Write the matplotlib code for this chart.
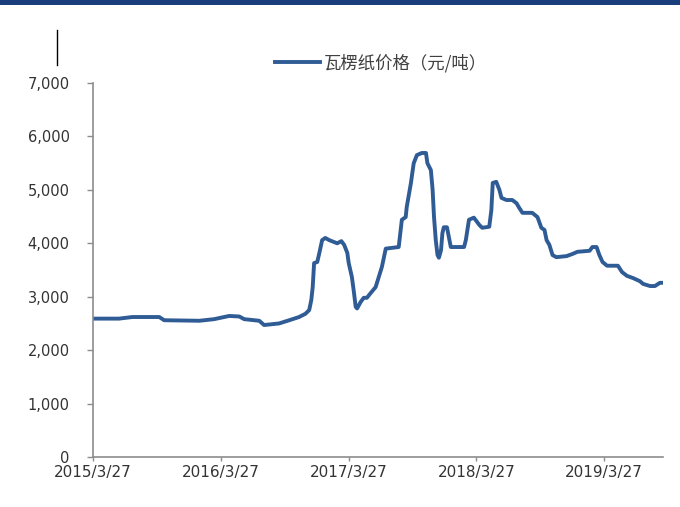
import matplotlib

matplotlib.use("Agg")
import matplotlib.pyplot as plt
from matplotlib.lines import Line2D
from matplotlib.patches import Rectangle
from matplotlib.ticker import FuncFormatter, MultipleLocator
import pandas as pd

plt.rcParams["font.family"] = ["DejaVu Sans", "Noto Sans CJK SC"]

dates = [
    "2015-03-27", "2015-06-09", "2015-07-17", "2015-10-02", "2015-10-16",
    "2016-01-25", "2016-03-07", "2016-04-19", "2016-05-18", "2016-06-01",
    "2016-07-14", "2016-07-28", "2016-09-09", "2016-10-08", "2016-11-05",
    "2016-11-23", "2016-12-04", "2016-12-10", "2016-12-14", "2016-12-18",
    "2016-12-27", "2017-01-02", "2017-01-10", "2017-01-19", "2017-01-30",
    "2017-02-22", "2017-03-06", "2017-03-14", "2017-03-23", "2017-03-27",
    "2017-04-05", "2017-04-10", "2017-04-16", "2017-04-20", "2017-04-30",
    "2017-05-09", "2017-05-18", "2017-05-29", "2017-06-12", "2017-06-21",
    "2017-06-30", "2017-07-11", "2017-08-17", "2017-08-26", "2017-09-06",
    "2017-09-09", "2017-09-21", "2017-09-25", "2017-09-29", "2017-10-08",
    "2017-10-22", "2017-11-03", "2017-11-07", "2017-11-17", "2017-11-22",
    "2017-11-26", "2017-12-01", "2017-12-06", "2017-12-10", "2017-12-16",
    "2017-12-20", "2017-12-24", "2018-01-02", "2018-01-13", "2018-02-20",
    "2018-02-25", "2018-03-06", "2018-03-20", "2018-04-05", "2018-04-13",
    "2018-05-03", "2018-05-09", "2018-05-13", "2018-05-23", "2018-06-01",
    "2018-06-07", "2018-06-21", "2018-07-08", "2018-07-20", "2018-07-28",
    "2018-08-06", "2018-09-03", "2018-09-18", "2018-09-29", "2018-10-08",
    "2018-10-14", "2018-10-22", "2018-10-31", "2018-11-11", "2018-12-10",
    "2018-12-27", "2019-01-10", "2019-02-14", "2019-02-22", "2019-03-06",
    "2019-03-14", "2019-03-23", "2019-04-05", "2019-05-06", "2019-05-18",
    "2019-06-01", "2019-06-18", "2019-07-08", "2019-07-17", "2019-08-06",
    "2019-08-20", "2019-09-03", "2019-09-12",
]
prices = [
    2590, 2590, 2620, 2620, 2560,
    2550, 2580, 2640, 2630, 2580,
    2550, 2470, 2500, 2560, 2620,
    2680, 2750, 2940, 3180, 3630,
    3650, 3820, 4060, 4100, 4060,
    4000, 4040, 3970, 3820, 3630,
    3370, 3130, 2810, 2780, 2900,
    2980, 2980, 3070, 3180, 3370,
    3560, 3900, 3930, 4440, 4490,
    4680, 5130, 5320, 5500, 5650,
    5690, 5690, 5500, 5370, 5000,
    4490, 4060, 3780, 3730, 3870,
    4190, 4300, 4300, 3930, 3930,
    4060, 4440, 4480, 4340, 4290,
    4310, 4620, 5130, 5150, 5000,
    4850, 4810, 4810, 4750, 4660,
    4570, 4570, 4490, 4290, 4250,
    4060, 3970, 3780, 3740, 3760,
    3800, 3840, 3860, 3930, 3930,
    3780, 3650, 3580, 3580, 3460,
    3390, 3350, 3290, 3240, 3200,
    3200, 3260, 3260,
]
tick_dates = ["2015-03-27", "2016-03-27", "2017-03-27", "2018-03-27", "2019-03-27"]
tick_labels = ["2015/3/27", "2016/3/27", "2017/3/27", "2018/3/27", "2019/3/27"]
series_name = "瓦楞纸价格（元/吨）"

x = pd.to_datetime(dates)
fig = plt.figure(figsize=(6.8, 5.07), dpi=100)
ax = fig.add_axes([0.137, 0.0986, 0.838, 0.7377])

ax.plot(x, prices, color="#305C96", linewidth=2.8, solid_joinstyle="round",
        label=series_name)

ax.set_ylim(0, 7000)
ax.yaxis.set_major_locator(MultipleLocator(1000))
ax.yaxis.set_major_formatter(FuncFormatter(lambda v, p: f"{int(v):,}"))
ax.set_xlim(pd.Timestamp("2015-03-27"), pd.Timestamp("2019-09-12"))
ax.set_xticks(pd.to_datetime(tick_dates))
ax.set_xticklabels(tick_labels)

for side in ("top", "right"):
    ax.spines[side].set_visible(False)
for side in ("left", "bottom"):
    ax.spines[side].set_color("#8c8c8c")
    ax.spines[side].set_linewidth(1.2)
ax.tick_params(axis="y", length=4, width=1, color="#8c8c8c", pad=13,
               labelsize=10.5, labelcolor="#333333")
ax.tick_params(axis="x", length=3, width=1, color="#8c8c8c", pad=3,
               labelsize=11, labelcolor="#333333")

leg = ax.legend(loc="center", bbox_to_anchor=(0.505, 1.054), frameon=False,
                handlelength=2.6, handletextpad=0.2,
                prop={"family": ["Noto Sans CJK SC"], "size": 12.5})
for t in leg.get_texts():
    t.set_color("#404040")

# header bar and marker line
fig.add_artist(Rectangle((0, 0.99), 1, 0.01, transform=fig.transFigure,
                         facecolor="#1A3D7C", edgecolor="none"))
fig.add_artist(Line2D([57 / 680, 57 / 680], [1 - 30 / 507, 1 - 65 / 507],
                      transform=fig.transFigure, color="black", linewidth=1))

fig.savefig("out.png", dpi=100)
plt.close(fig)
